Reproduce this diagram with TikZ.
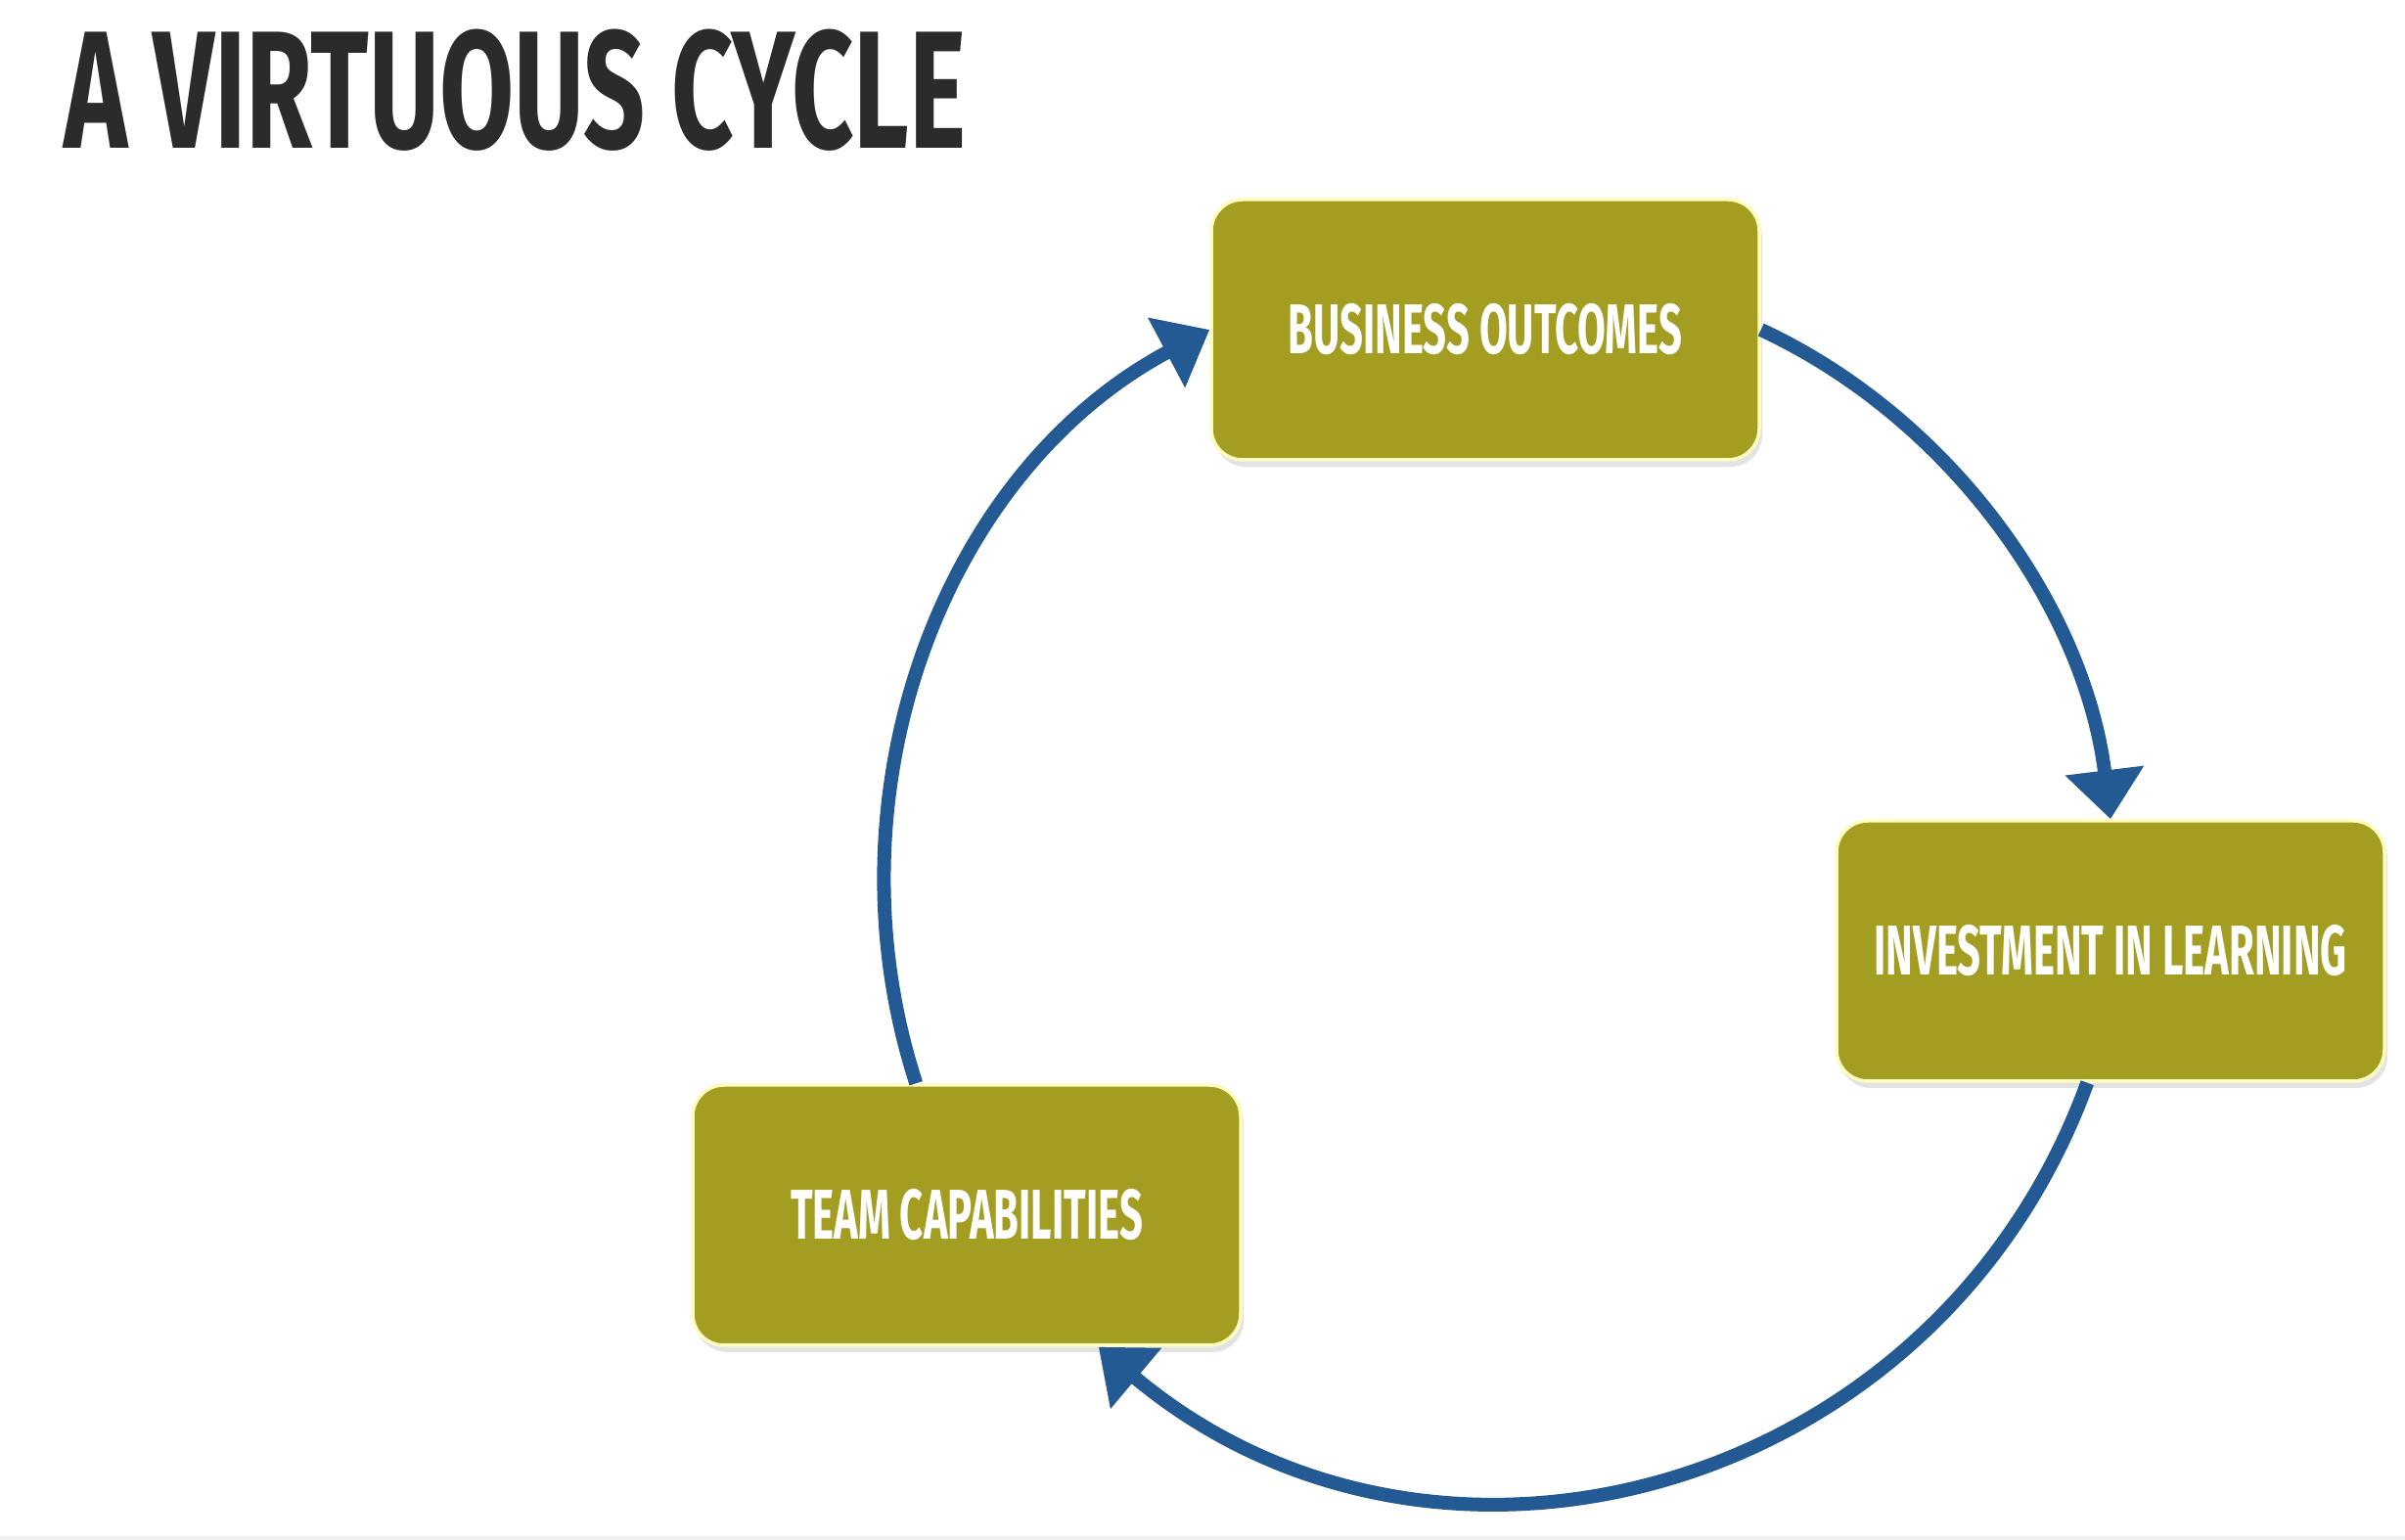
\documentclass[tikz,border=0pt]{standalone}
\usepackage{fontspec}
\usepackage{xcolor}
\usetikzlibrary{arrows.meta,shadows}
\newfontfamily\slidefont{Fira Sans}[FakeStretch=0.58]
\newfontfamily\headfont{Fira Sans}[FakeStretch=0.645]
\definecolor{boxolive}{HTML}{A39E22}
\definecolor{cycleblue}{HTML}{245A94}
\definecolor{titlegray}{HTML}{2B2B2B}

\begin{document}
\begin{tikzpicture}[thick,
    box/.style = {draw=yellow!25, line width=1pt, fill=boxolive, rounded corners=0.32cm,
                  minimum width=5.6cm, minimum height=2.66cm, text=white,
                  font=\slidefont\bfseries\fontsize{20.5}{24}\selectfont,
                  drop shadow={shadow xshift=0.03cm, shadow yshift=-0.07cm, opacity=0.22}},
    flow/.style = {draw=cycleblue, line width=4pt, -{Triangle[width=0.78cm,length=0.5cm]}}]
    \useasboundingbox (0,0) rectangle (24.58,15.74);
    \fill[gray!12] (0,0) rectangle (24.58,0.04);

    \node[anchor=base west, inner sep=0pt, text=titlegray,
          font=\headfont\bfseries\fontsize{48.7}{50}\selectfont] (title) at (0.64,14.22) {A VIRTUOUS CYCLE};

    \node[box] (bo) at (15.18,12.37) {BUSINESS OUTCOMES};
    \node[box] (inv) at (21.57,6.02) {INVESTMENT IN LEARNING};
    \node[box] (tc) at (9.88,3.32) {TEAM CAPABILITIES};

    \draw[flow] (bo.east) to[out=-25, in=97, looseness=0.9] (inv.north);
    \draw[flow] (inv.-100) to[out=-110, in=-40, looseness=1.1] (tc.-45);
    \draw[flow] (tc.111) to[out=108, in=-152, looseness=0.96] (bo.west);
\end{tikzpicture}
\end{document}
